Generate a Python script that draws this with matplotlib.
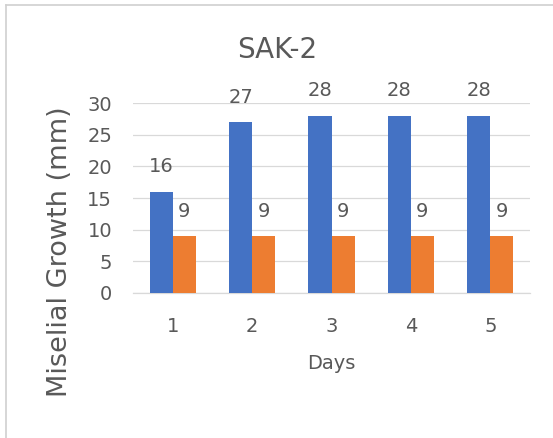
import numpy as np
import matplotlib.pyplot as plt
from matplotlib.lines import Line2D

plt.rcParams['font.family'] = ['DejaVu Sans']

# growth per day for the two series
days = ['1', '2', '3', '4', '5']
growth_a = [16, 27, 28, 28, 28]
growth_b = [9, 9, 9, 9, 9]

text_grey = '#595959'
grid_grey = '#D9D9D9'

W, H = 553, 438
fig = plt.figure(figsize=(W / 100, H / 100), dpi=100)
ax = fig.add_axes([133 / W, 1 - 293 / H, 397 / W, 190 / H])

x = np.arange(len(days))
w = 0.29
bars_a = ax.bar(x - w / 2, growth_a, width=w, color='#4472C4', zorder=3)
bars_b = ax.bar(x + w / 2, growth_b, width=w, color='#ED7D31', zorder=3)

# value labels above each bar
for bars, vals in ((bars_a, growth_a), (bars_b, growth_b)):
    for b, v in zip(bars, vals):
        ax.annotate(str(v), (b.get_x() + b.get_width() / 2, v),
                    xytext=(0, 18), textcoords='offset points',
                    ha='center', va='center', fontsize=14, color='#595959')

ax.set_xlim(-0.5, len(days) - 0.5)
ax.set_ylim(0, 30)
ax.set_yticks(range(0, 31, 5))
ax.set_xticks(x)
ax.set_xticklabels(days)
ax.yaxis.grid(True, color=grid_grey, linewidth=0.9, zorder=0)
ax.set_axisbelow(True)

for side in ('top', 'right', 'left'):
    ax.spines[side].set_visible(False)
ax.spines['bottom'].set_color(grid_grey)
ax.spines['bottom'].set_linewidth(0.9)
ax.tick_params(axis='both', length=0, labelsize=14, labelcolor=text_grey)
ax.tick_params(axis='x', pad=17)
ax.tick_params(axis='y', pad=15)

# axis titles and chart title placed in figure pixels
fig.text(331 / W, 1 - 369 / H, 'Days', ha='center', va='baseline',
         fontsize=14, color=text_grey)
fig.text(60 / W, 1 - 252 / H, 'Miselial Growth (mm)', ha='center', va='center',
         rotation=90, fontsize=19.5, color=text_grey)
fig.text(277 / W, 1 - 58 / H, 'SAK-2', ha='center', va='baseline',
         fontsize=20, color=text_grey)

# thin border around the chart area (only top/left edges show)
fig.add_artist(Line2D([6 / W, 6 / W], [0, 1 - 5 / H], transform=fig.transFigure,
                      color='#D0D0D0', linewidth=1.2))
fig.add_artist(Line2D([6 / W, 1], [1 - 5 / H, 1 - 5 / H], transform=fig.transFigure,
                      color='#D0D0D0', linewidth=1.2))

fig.savefig('out.png', dpi=100)
